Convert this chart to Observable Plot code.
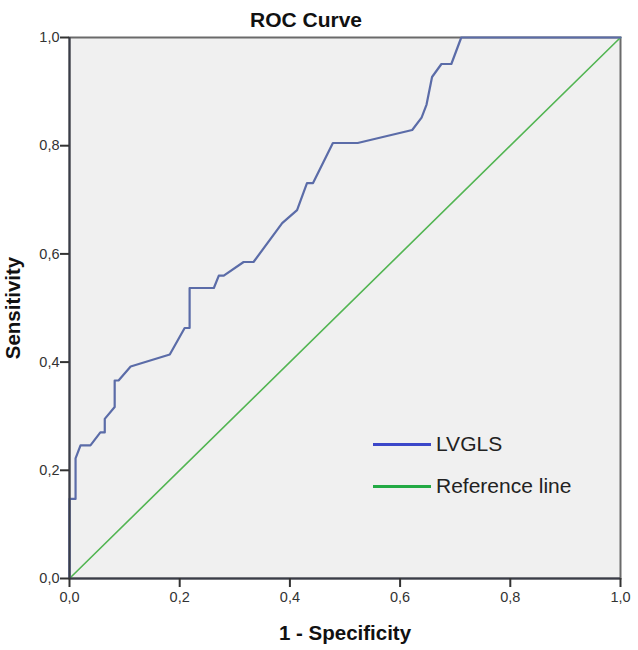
<!DOCTYPE html>
<html>
<head>
<meta charset="utf-8">
<script src="https://cdn.jsdelivr.net/npm/d3@7"></script>
<script src="https://cdn.jsdelivr.net/npm/@observablehq/plot@0.6"></script>
<style>
  html, body { margin: 0; padding: 0; background: #fff; }
  #wrap { position: relative; width: 638px; height: 650px; font-family: "Liberation Sans", Arial, sans-serif; }
  #legend { position: absolute; left: 373px; top: 431px; }
  .row { display: flex; align-items: center; height: 26px; margin-bottom: 16px; }
  .swatch { width: 58px; height: 3px; margin-right: 5px; }
  .lbl { font-size: 21px; color: #222; line-height: 26px; }
</style>
</head>
<body>
<div id="wrap"></div>
<script>
// ROC curve points for LVGLS (1 - specificity, sensitivity)
const fpr = [0, 0, 0.011, 0.011, 0.020, 0.038, 0.056, 0.064, 0.064, 0.082, 0.082, 0.089, 0.111, 0.182, 0.209, 0.218, 0.218, 0.262, 0.271, 0.280, 0.316, 0.334, 0.386, 0.413, 0.431, 0.442, 0.478, 0.523, 0.622, 0.639, 0.648, 0.658, 0.675, 0.693, 0.711, 1];
const tpr = [0, 0.147, 0.147, 0.222, 0.246, 0.246, 0.270, 0.270, 0.295, 0.317, 0.366, 0.366, 0.392, 0.414, 0.463, 0.463, 0.537, 0.537, 0.560, 0.560, 0.585, 0.585, 0.657, 0.681, 0.731, 0.731, 0.805, 0.805, 0.829, 0.852, 0.876, 0.927, 0.951, 0.951, 1.0, 1];
const refX = [0, 1];
const refY = [0, 1];
const ticks = [0, 0.2, 0.4, 0.6, 0.8, 1.0];
const seriesNames = ["LVGLS", "Reference line"];
const seriesColors = ["#3b47c9", "#22aa44"];
const titleText = "ROC Curve";
const xLabel = "1 - Specificity";
const yLabel = "Sensitivity";

const roc = fpr.map((x, i) => ({x, y: tpr[i]}));
const ref = refX.map((x, i) => ({x, y: refY[i]}));
const fmt = d => d.toFixed(1).replace(".", ",");

const chart = Plot.plot({
  width: 638,
  height: 650,
  marginLeft: 69,
  marginRight: 18,
  marginTop: 37,
  marginBottom: 72,
  style: { fontFamily: "'Liberation Sans', Arial, sans-serif", background: "#fff" },
  x: { domain: [0, 1] },
  y: { domain: [0, 1] },
  marks: [
    Plot.frame({ fill: "#f0f0f0", stroke: "#6a6a6a", strokeWidth: 2 }),
    Plot.line(ref, { x: "x", y: "y", stroke: "#52b552", strokeWidth: 1.6 }),
    Plot.line(roc, { x: "x", y: "y", stroke: "#5b6ca8", strokeWidth: 2.2, curve: "linear" }),
    Plot.ruleX([0], { stroke: "#3a3d48", strokeWidth: 2 }),
    Plot.ruleY([0], { stroke: "#3a3d48", strokeWidth: 2 }),
    Plot.axisX({ ticks, tickFormat: fmt, tickSize: 9, tickPadding: 4, fontSize: 14.5, stroke: "#333", strokeWidth: 2, color: "#333", label: null }),
    Plot.axisY({ ticks, tickFormat: fmt, tickSize: 9, tickPadding: 1, fontSize: 14.5, stroke: "#333", strokeWidth: 2, color: "#333", label: null }),
    Plot.text([titleText], { frameAnchor: "top", lineAnchor: "middle", textAnchor: "middle", dx: -39, dy: -17, fontSize: 21, fontWeight: "bold", fill: "#111" }),
    Plot.text([xLabel], { frameAnchor: "bottom", lineAnchor: "middle", textAnchor: "middle", dy: 55, fontSize: 20.5, fontWeight: "bold", fill: "#111" }),
    Plot.text([yLabel], { frameAnchor: "left", lineAnchor: "middle", textAnchor: "middle", dx: -56, rotate: -90, fontSize: 20.5, fontWeight: "bold", fill: "#111" })
  ]
});
const wrap = document.getElementById("wrap");
wrap.appendChild(chart);

const legend = document.createElement("div");
legend.id = "legend";
seriesNames.forEach((name, i) => {
  const row = document.createElement("div");
  row.className = "row";
  const sw = document.createElement("div");
  sw.className = "swatch";
  sw.style.background = seriesColors[i];
  const lb = document.createElement("span");
  lb.className = "lbl";
  lb.textContent = name;
  row.appendChild(sw);
  row.appendChild(lb);
  legend.appendChild(row);
});
wrap.appendChild(legend);
</script>
</body>
</html>
